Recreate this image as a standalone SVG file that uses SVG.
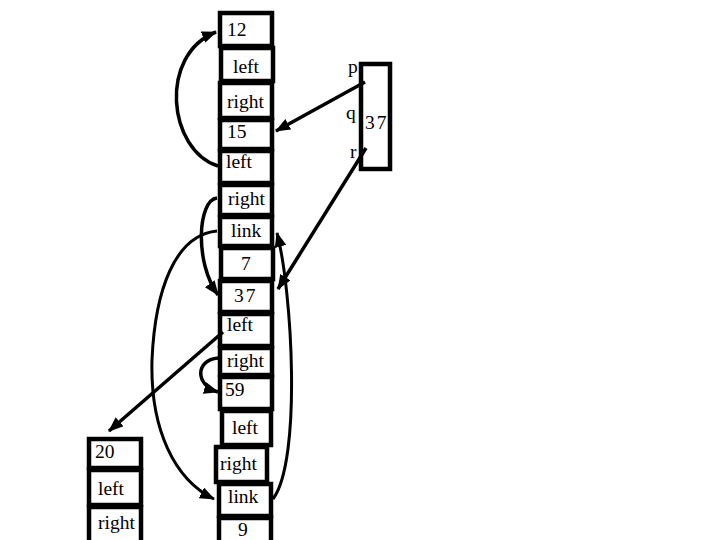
<svg xmlns="http://www.w3.org/2000/svg" width="720" height="540" viewBox="0 0 720 540">
<style>
.box{fill:#fff;stroke:#000;stroke-width:4.5}
.t{font-family:"Liberation Serif","Times New Roman",serif;font-size:19.5px;fill:#000}
.c{fill:none;stroke:#000;stroke-width:3.5}
.c2{fill:none;stroke:#000;stroke-width:3}
</style>
<defs>
<marker id="ah" markerUnits="userSpaceOnUse" markerWidth="15" markerHeight="12" refX="14" refY="6" orient="auto">
<path d="M0,0 L15,6 L0,12 z" fill="#000"/>
</marker>
</defs>
<rect width="720" height="540" fill="#fff"/>
<g id="n12"><rect class="box" x="220" y="13" width="52" height="33"/><text class="t" x="227" y="36">12</text></g>
<g id="n12left"><rect class="box" x="221" y="48" width="52" height="33"/><text class="t" x="233" y="73">left</text></g>
<g id="n12right"><rect class="box" x="220" y="83" width="52" height="35"/><text class="t" x="227" y="108">right</text></g>
<g id="n15"><rect class="box" x="220" y="120" width="52" height="29"/><text class="t" x="227" y="138">15</text></g>
<g id="n15left"><rect class="box" x="220" y="151" width="52" height="32"/><text class="t" x="226" y="168">left</text></g>
<g id="n15right"><rect class="box" x="220" y="185" width="52" height="30"/><text class="t" x="228" y="205">right</text></g>
<g id="n15link"><rect class="box" x="220" y="217" width="52" height="29"/><text class="t" x="231" y="237">link</text></g>
<g id="n7"><rect class="box" x="221" y="248" width="52" height="31"/><text class="t" x="241" y="270">7</text></g>
<g id="n37"><rect class="box" x="220" y="281" width="52" height="31"/><text class="t" x="234" y="302" letter-spacing="2">37</text></g>
<g id="n37left"><rect class="box" x="220" y="314" width="52" height="32"/><text class="t" x="227" y="331">left</text></g>
<g id="n37right"><rect class="box" x="220" y="348" width="52" height="27"/><text class="t" x="227" y="367">right</text></g>
<g id="n59"><rect class="box" x="220" y="377" width="52" height="32"/><text class="t" x="225" y="396">59</text></g>
<g id="n59left"><rect class="box" x="222" y="411" width="49" height="34"/><text class="t" x="232" y="434">left</text></g>
<g id="n59right"><rect class="box" x="216" y="447" width="51" height="35"/><text class="t" x="220" y="470">right</text></g>
<g id="n59link"><rect class="box" x="219" y="484" width="52" height="32"/><text class="t" x="228" y="503">link</text></g>
<g id="n9"><rect class="box" x="219" y="518" width="52" height="32"/><text class="t" x="238" y="536">9</text></g>
<g id="n20"><rect class="box" x="89" y="439" width="52" height="29"/><text class="t" x="95" y="458">20</text></g>
<g id="n20left"><rect class="box" x="89" y="470" width="52" height="35"/><text class="t" x="98" y="495">left</text></g>
<g id="n20right"><rect class="box" x="89" y="507" width="52" height="40"/><text class="t" x="98" y="529">right</text></g>
<g id="pqr"><rect class="box" x="361" y="64" width="29" height="105"/><text class="t" x="348" y="73">p</text><text class="t" x="346" y="119">q</text><text class="t" x="365" y="129" letter-spacing="2">37</text><text class="t" x="350" y="158">r</text></g>
<g id="connectors">
<path class="c" d="M218,166 C168,150 158,55 216,32" marker-end="url(#ah)"/>
<path class="c" d="M365,82 L276,131" marker-end="url(#ah)"/>
<path class="c" d="M366,148 L278,289" marker-end="url(#ah)"/>
<path class="c" d="M217,198 C198,200 194,262 218,295" marker-end="url(#ah)"/>
<path class="c2" d="M217,231 C175,235 155,290 152,360 C150,430 175,480 214,499" marker-end="url(#ah)"/>
<path class="c2" d="M273,499 C302,460 292,290 277,233" marker-end="url(#ah)"/>
<path class="c" d="M218,358 C195,360 195,385 218,392" marker-end="url(#ah)"/>
<path class="c" d="M223,332 L109,431" marker-end="url(#ah)"/>
</g>
</svg>
